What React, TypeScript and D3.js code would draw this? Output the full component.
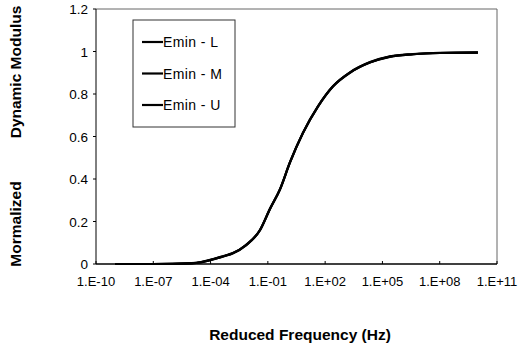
import React from 'react'
import * as d3 from 'd3'

// reduced frequency (Hz) and normalized modulus
const freqs = [1e-9, 1e-7, 1e-5, 1.7e-4, 6.3e-3, 3.9e-2, 0.13, 0.43, 1.45, 6.9, 41.7, 257, 2000, 22400, 245000, 4e6, 1e8, 1e10]
const emin_L = [0, 0, 0.003, 0.025, 0.085, 0.16, 0.26, 0.35, 0.478, 0.616, 0.74, 0.835, 0.9, 0.948, 0.975, 0.987, 0.993, 0.995]
const emin_M = [0, 0, 0.003, 0.024, 0.084, 0.159, 0.259, 0.351, 0.479, 0.617, 0.741, 0.836, 0.901, 0.949, 0.976, 0.987, 0.993, 0.995]
const emin_U = [0, 0, 0.004, 0.026, 0.086, 0.161, 0.261, 0.352, 0.48, 0.618, 0.742, 0.837, 0.902, 0.95, 0.977, 0.988, 0.994, 0.996]
const seriesNames = ['Emin - L', 'Emin - M', 'Emin - U']
const xTickLabels = ['1.E-10', '1.E-07', '1.E-04', '1.E-01', '1.E+02', '1.E+05', '1.E+08', '1.E+11']
const yTicks = [0, 0.2, 0.4, 0.6, 0.8, 1, 1.2]

const W = 518
const H = 349
const left = 96
const right = 497
const top = 9
const bottom = 264

export default function App() {
  const x = d3.scaleLog().domain([1e-10, 1e11]).range([left, right])
  const y = d3.scaleLinear().domain([0, 1.2]).range([bottom, top])
  const xTicks = xTickLabels.map((_, i) => Math.pow(10, -10 + i * 3))

  const mkLine = d3
    .line<number>()
    .x((_, i) => x(freqs[i]))
    .y((v) => y(v))
    .curve(d3.curveMonotoneX)

  const all = [emin_L, emin_M, emin_U]

  return (
    <svg width={W} height={H} style={{ position: 'absolute', left: 0, top: 0, fontFamily: 'Liberation Sans, Arial, sans-serif' }}>
      <rect width={W} height={H} fill="#fff" />
      {/* frame */}
      <line x1={left} x2={right} y1={top} y2={top} stroke="#666" />
      <line x1={right} x2={right} y1={top} y2={bottom} stroke="#666" />
      <line x1={left} x2={left} y1={top} y2={bottom} stroke="#000" />
      <line x1={left} x2={right} y1={bottom} y2={bottom} stroke="#000" strokeWidth={1.5} />

      {yTicks.map((t) => (
        <g key={t}>
          <line x1={left - 3} x2={left} y1={y(t)} y2={y(t)} stroke="#000" />
          <text x={88} y={y(t) + 5} textAnchor="end" fontSize={13.5}>
            {d3.format('~g')(t)}
          </text>
        </g>
      ))}
      {xTicks.map((t, i) => (
        <g key={i}>
          <line x1={x(t)} x2={x(t)} y1={bottom} y2={bottom - 3} stroke="#000" />
          <text x={x(t)} y={286} textAnchor="middle" fontSize={13}>
            {xTickLabels[i]}
          </text>
        </g>
      ))}

      {all.map((s, i) => (
        <path key={i} d={mkLine(s) || ''} fill="none" stroke="#000" strokeWidth={2.2} />
      ))}

      {/* legend */}
      <rect x={133} y={20} width={102} height={107} fill="#fff" stroke="#333" />
      {seriesNames.map((n, i) => (
        <g key={n}>
          <line x1={142} x2={163} y1={42 + i * 31.5} y2={42 + i * 31.5} stroke="#000" strokeWidth={2.2} />
          <text x={163} y={47 + i * 31.5} fontSize={14} letterSpacing={0.4}>
            {n}
          </text>
        </g>
      ))}

      <text transform="translate(21,72) rotate(-90)" textAnchor="middle" fontSize={15.5} fontWeight="bold">
        Dynamic Modulus
      </text>
      <text transform="translate(21,224) rotate(-90)" textAnchor="middle" fontSize={15.5} fontWeight="bold">
        Mormalized
      </text>
      <text x={300} y={340} textAnchor="middle" fontSize={15.5} fontWeight="bold">
        Reduced Frequency (Hz)
      </text>
    </svg>
  )
}
